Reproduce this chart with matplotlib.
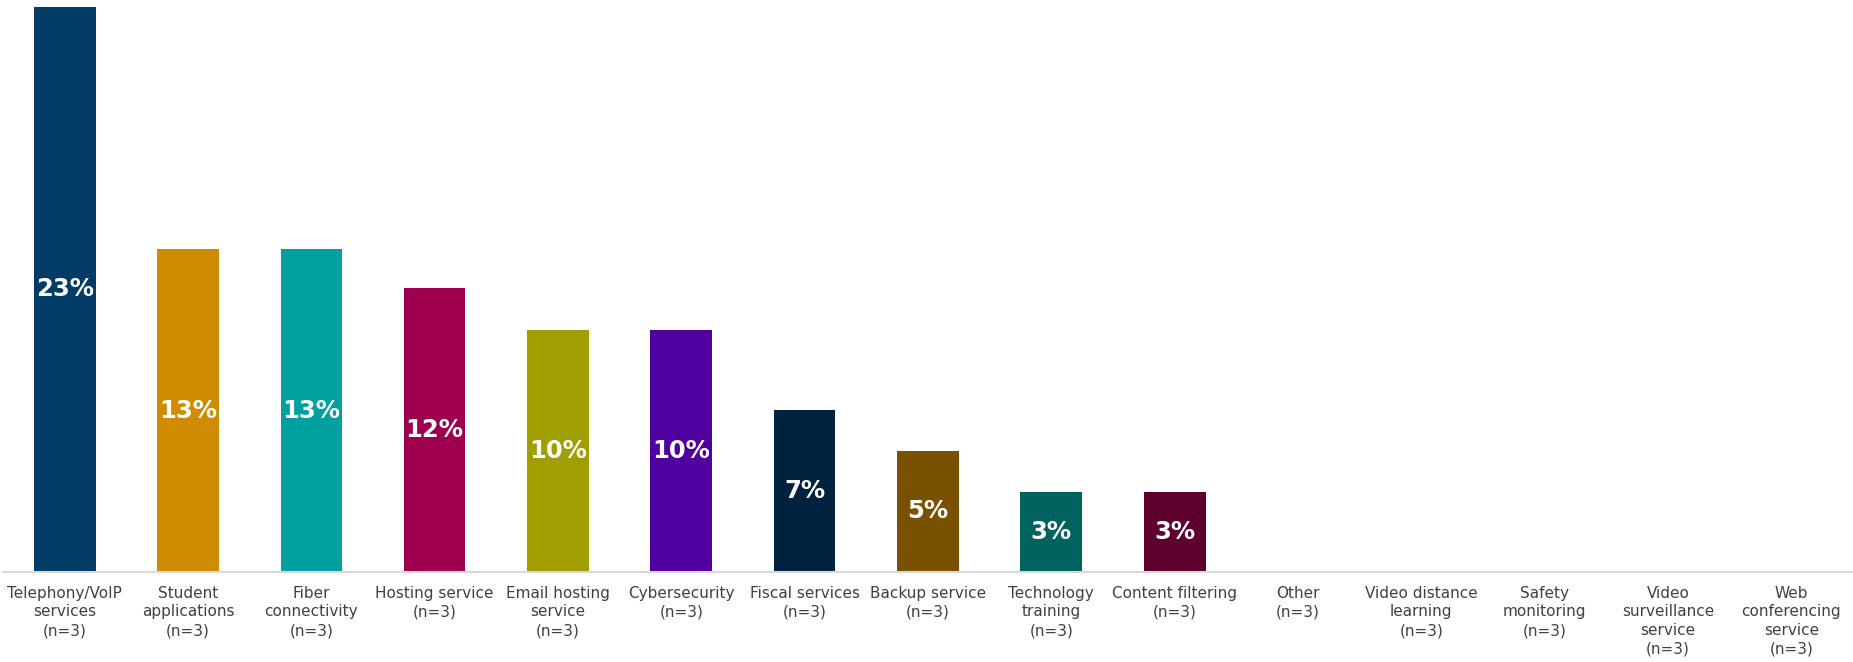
"""
Services offered - share of respondents per service (bar chart).
"""

import matplotlib
matplotlib.use("Agg")
import matplotlib.pyplot as plt

plt.rcParams["font.family"] = "DejaVu Sans"

services = [
    "Telephony/VoIP\nservices\n(n=3)",
    "Student\napplications\n(n=3)",
    "Fiber\nconnectivity\n(n=3)",
    "Hosting service\n(n=3)",
    "Email hosting\nservice\n(n=3)",
    "Cybersecurity\n(n=3)",
    "Fiscal services\n(n=3)",
    "Backup service\n(n=3)",
    "Technology\ntraining\n(n=3)",
    "Content filtering\n(n=3)",
    "Other\n(n=3)",
    "Video distance\nlearning\n(n=3)",
    "Safety\nmonitoring\n(n=3)",
    "Video\nsurveillance\nservice\n(n=3)",
    "Web\nconferencing\nservice\n(n=3)",
]
shares = [23.3, 13.3, 13.3, 11.7, 10.0, 10.0, 6.7, 5.0, 3.3, 3.3,
          0, 0, 0, 0, 0]
bar_colors = [
    "#023B65", "#D08C00", "#009FA0", "#9E004F", "#A09E00",
    "#50009E", "#00223F", "#7A5100", "#00625F", "#5E002E",
    "#888888", "#888888", "#888888", "#888888", "#888888",
]

fig = plt.figure(figsize=(18.53, 6.62), dpi=100)
ax = fig.add_axes([3 / 1853, 90 / 662, 1850 / 1853, 572 / 662])

x = list(range(len(services)))
bars = ax.bar(x, shares, width=0.5, color=bar_colors, zorder=2)

# value labels centred in each non-empty bar
for xi, v in zip(x, shares):
    if v > 0:
        ax.text(xi, v / 2, f"{v:.0f}%", ha="center", va="center",
                color="white", fontsize=17.5, fontweight="bold")

ax.set_xlim(-0.5, len(services) - 0.5)
ax.set_ylim(0, 23.3 * 572 / 565)

ax.set_xticks(x)
ax.set_xticklabels(services, fontsize=11, color="#404040",
                   linespacing=1.3, va="top")
ax.tick_params(axis="x", length=0, pad=10)
ax.set_yticks([])

for side in ("top", "right", "left"):
    ax.spines[side].set_visible(False)
ax.spines["bottom"].set_color("#D9D9D9")
ax.spines["bottom"].set_linewidth(1.5)

fig.savefig("out.png", dpi=100, facecolor="white")
